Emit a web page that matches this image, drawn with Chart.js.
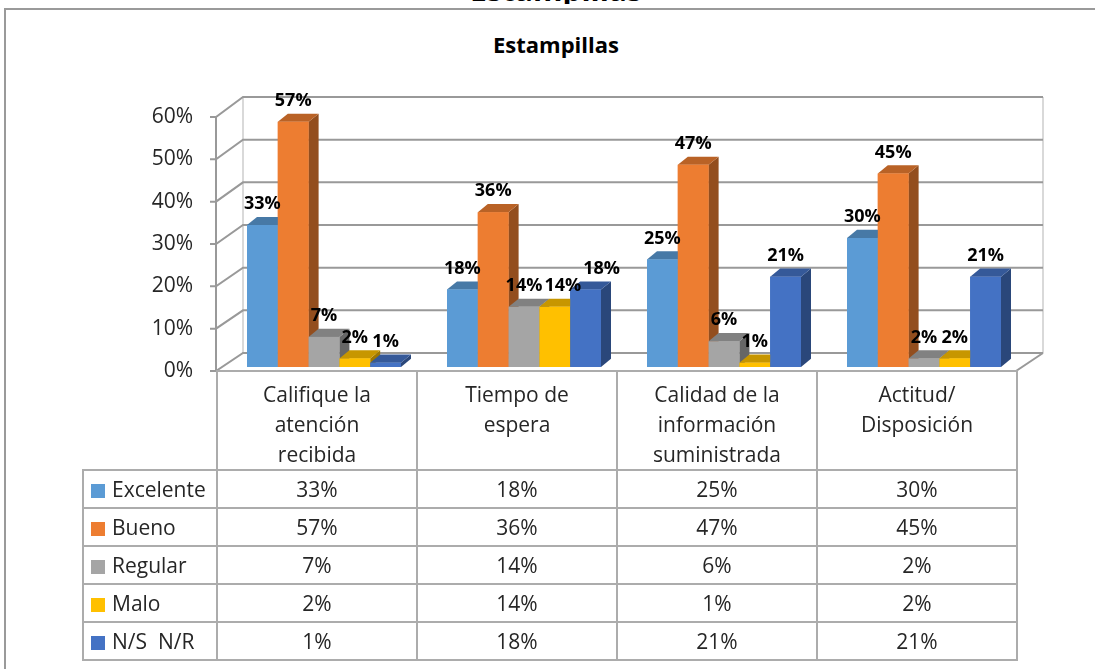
<!DOCTYPE html>
<html>
<head>
<meta charset="utf-8">
<script src="https://cdn.jsdelivr.net/npm/chart.js@4"></script>
<style>
  body { margin: 0; background: #fff; }
  #wrap { position: relative; width: 1095px; height: 669px; overflow: hidden; font-family: "Open Sans", sans-serif; }
  #frame { position: absolute; left: 4px; top: 8px; width: 1200px; height: 800px; border: 2px solid #9a9a9a; }
  #topTitle { position: absolute; left: 0; top: 0; width: 1112px; height: 4px; overflow: hidden; }
  #topTitle div { position: absolute; left: 0; width: 100%; top: -30px; text-align: center; font: bold 30px/40px "Open Sans"; color: #000; }
  #title { position: absolute; left: 0; top: 29px; width: 1112px; text-align: center; font: bold 22px/30px "Open Sans"; color: #000; }
  #tbl { position: absolute; border-collapse: collapse; table-layout: fixed; color: #262626; font-size: 21px; }
  #tbl td { border: 2px solid #acacac; text-align: center; padding: 0; white-space: pre; }
  #tbl tr.head td { vertical-align: top; padding-top: 7px; line-height: 30px; }
  #tbl tr.head td.blank { border-top: none; border-left: none; }
  #tbl td.leg { text-align: left; padding-left: 7px; }
  .sw { display: inline-block; width: 14px; height: 14px; margin-right: 7px; vertical-align: -1px; }
  canvas { position: absolute; left: 0; top: 0; }
</style>
</head>
<body>
<div id="wrap">
  <div id="frame"></div>
  <div id="topTitle"><div>Estampillas</div></div>
  <div id="title">Estampillas</div>
  <canvas id="chart"></canvas>
  <table id="tbl"></table>
</div>
<script>
// categories (multi-line, as in the data table header)
const categories = [
    ['Califique la', 'atención', 'recibida'],
    ['Tiempo de', 'espera'],
    ['Calidad de la', 'información', 'suministrada'],
    ['Actitud/', 'Disposición']
];
const seriesNames = ['Excelente', 'Bueno', 'Regular', 'Malo', 'N/S  N/R'];

// values in %
const excelente = [33, 18, 25, 30];
const bueno     = [57, 36, 47, 45];
const regular   = [7, 14, 6, 2];
const malo      = [2, 14, 1, 2];
const nsnr      = [1, 18, 21, 21];

const yMax = 60;
const yStep = 10;

const seriesColors = ['#5b9bd5', '#ed7d31', '#a5a5a5', '#ffc000', '#4472c4'];
const seriesValues = [excelente, bueno, regular, malo, nsnr];

// 3d look
const WALL_DX = 27, WALL_DY = -18, WALL_TILT = -2;
const BAR_DX = 8, BAR_DY = -4, BAR_SY = 1.016;
const SIDE_DX = 10, SIDE_DY = -8;

function shade(hex, f) {
    const n = parseInt(hex.slice(1), 16);
    const r = Math.round(((n >> 16) & 255) * f);
    const g = Math.round(((n >> 8) & 255) * f);
    const b = Math.round((n & 255) * f);
    return `rgb(${r},${g},${b})`;
}

const walls3d = {
    id: 'walls3d',
    beforeDatasetsDraw(chart) {
        const { ctx, chartArea: a, scales: { y } } = chart;
        const backY = py => py + WALL_DY + WALL_TILT * (a.bottom - py) / (a.bottom - a.top);
        ctx.save();
        // back wall edges
        ctx.strokeStyle = '#d9d9d9';
        ctx.lineWidth = 2;
        ctx.beginPath();
        ctx.moveTo(a.left + WALL_DX, backY(a.top));
        ctx.lineTo(a.left + WALL_DX, backY(a.bottom));
        ctx.moveTo(a.right + WALL_DX, backY(a.top));
        ctx.lineTo(a.right + WALL_DX, backY(a.bottom));
        ctx.stroke();
        // grid lines on back wall + side wall
        ctx.strokeStyle = '#999999';
        y.ticks.forEach(t => {
            const p = y.getPixelForValue(t.value);
            ctx.beginPath();
            ctx.moveTo(a.left - 6, p);
            ctx.lineTo(a.left, p);
            ctx.lineTo(a.left + WALL_DX, backY(p));
            ctx.lineTo(a.right + WALL_DX, backY(p));
            ctx.stroke();
        });
        // front axis + floor
        ctx.beginPath();
        ctx.moveTo(a.left, a.top);
        ctx.lineTo(a.left, a.bottom);
        ctx.lineTo(a.right, a.bottom);
        ctx.lineTo(a.right + WALL_DX, backY(a.bottom));
        ctx.stroke();
        ctx.restore();

        ctx.save();
        ctx.translate(BAR_DX, a.bottom + BAR_DY);
        ctx.scale(1, BAR_SY);
        ctx.translate(0, -a.bottom);
    },
    afterDatasetsDraw(chart) {
        const { ctx, chartArea: a } = chart;
        // repaint bars in left-to-right order with side and top faces
        chart.data.datasets.forEach((ds, i) => {
            const meta = chart.getDatasetMeta(i);
            meta.data.forEach(bar => {
                const x0 = bar.x - bar.width / 2, x1 = bar.x + bar.width / 2;
                const top = bar.y, base = bar.base;
                ctx.fillStyle = shade(ds.backgroundColor, 0.62);
                ctx.beginPath();
                ctx.moveTo(x1, base);
                ctx.lineTo(x1 + SIDE_DX, base + SIDE_DY);
                ctx.lineTo(x1 + SIDE_DX, top + SIDE_DY);
                ctx.lineTo(x1, top);
                ctx.fill();
                ctx.fillStyle = shade(ds.backgroundColor, 0.78);
                ctx.beginPath();
                ctx.moveTo(x0, top);
                ctx.lineTo(x0 + SIDE_DX, top + SIDE_DY);
                ctx.lineTo(x1 + SIDE_DX, top + SIDE_DY);
                ctx.lineTo(x1, top);
                ctx.fill();
                bar.draw(ctx);
            });
        });
        ctx.restore();

        // data labels, nudged right when they would collide inside a group
        ctx.save();
        ctx.font = 'bold 18px "Open Sans"';
        ctx.fillStyle = '#000';
        ctx.textAlign = 'center';
        ctx.textBaseline = 'middle';
        chart.data.labels.forEach((_, j) => {
            let prev = null;
            chart.data.datasets.forEach((ds, i) => {
                const bar = chart.getDatasetMeta(i).data[j];
                const txt = ds.data[j] + '%';
                const w = ctx.measureText(txt).width;
                let sx = bar.x + BAR_DX;
                const sy = a.bottom + BAR_DY - (a.bottom - bar.y) * BAR_SY - 21;
                if (prev && Math.abs(prev.y - sy) < 18 && sx - w / 2 < prev.right + 2) {
                    sx = prev.right + 2 + w / 2;
                }
                ctx.fillText(txt, sx, sy);
                prev = { right: sx + w / 2, y: sy };
            });
        });
        ctx.restore();
    }
};

const chart = new Chart(document.getElementById('chart'), {
    type: 'bar',
    data: {
        labels: categories,
        datasets: seriesNames.map((name, i) => ({
            label: name,
            data: seriesValues[i],
            backgroundColor: seriesColors[i],
            borderWidth: 0,
            categoryPercentage: 0.77,
            barPercentage: 1,
            clip: false
        }))
    },
    options: {
        responsive: true,
        maintainAspectRatio: false,
        animation: false,
        layout: { padding: { top: 117, right: 79, bottom: 298, left: 0 } },
        plugins: { legend: { display: false }, tooltip: { enabled: false }, title: { display: false } },
        scales: {
            x: { display: false },
            y: {
                min: 0, max: yMax,
                ticks: { stepSize: yStep, padding: 15, color: '#262626', font: { family: 'Open Sans', size: 21 }, callback: v => v + '%' },
                grid: { display: false },
                border: { display: false },
                afterFit(s) { s.width = 216; }
            }
        }
    },
    plugins: [walls3d]
});

// data table under the chart, columns taken from the x scale
function buildTable() {
    const a = chart.chartArea;
    const colW = (a.right - a.left) / categories.length;
    const legendLeft = 82;
    const tbl = document.getElementById('tbl');
    tbl.style.left = legendLeft + 'px';
    tbl.style.top = (a.bottom - 1) + 'px';
    let html = '<colgroup><col style="width:' + (a.left - legendLeft) + 'px">';
    categories.forEach(() => { html += '<col style="width:' + colW + 'px">'; });
    html += '</colgroup>';
    html += '<tr class="head" style="height:99px"><td class="blank"></td>';
    categories.forEach(c => { html += '<td>' + c.join('\n') + '</td>'; });
    html += '</tr>';
    seriesNames.forEach((name, i) => {
        html += '<tr style="height:38px"><td class="leg"><span class="sw" style="background:' + seriesColors[i] + '"></span>' + name + '</td>';
        seriesValues[i].forEach(v => { html += '<td>' + v + '%</td>'; });
        html += '</tr>';
    });
    tbl.innerHTML = html;
    tbl.style.width = (a.right - legendLeft) + 'px';
}
buildTable();
</script>
</body>
</html>
